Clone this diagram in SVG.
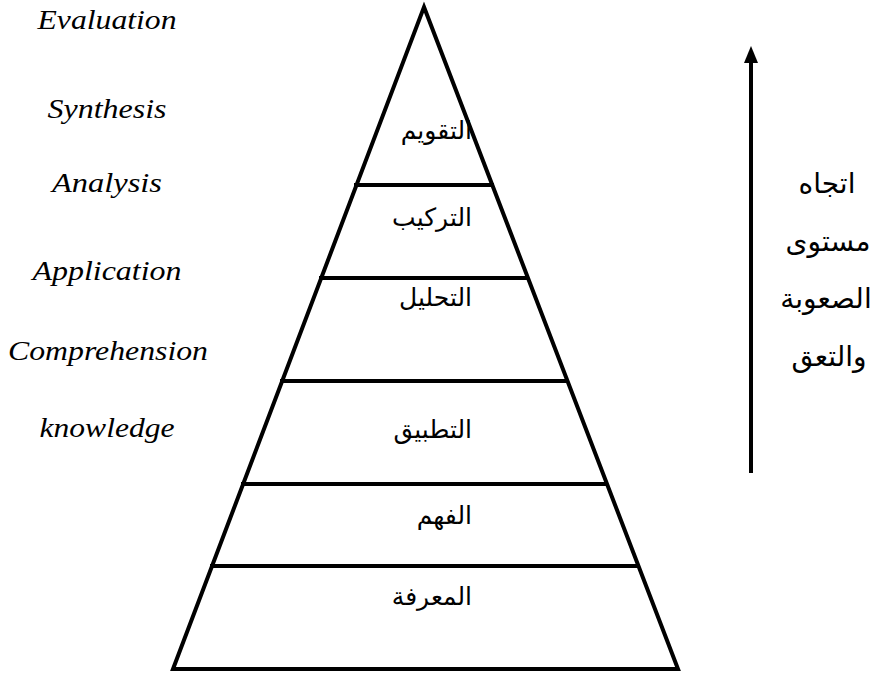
<svg xmlns="http://www.w3.org/2000/svg" width="883" height="674" viewBox="0 0 883 674">
<style>
.edge{stroke:#000;stroke-width:4;fill:none}
.en{font-family:"Liberation Serif","Times New Roman",serif;font-style:italic;font-size:28px;text-anchor:middle;fill:#000}
.ar{font-family:"DejaVu Sans","Liberation Sans",Arial,sans-serif;font-size:25px;text-anchor:end;fill:#000}
.arr{font-family:"DejaVu Sans","Liberation Sans",Arial,sans-serif;font-size:28px;text-anchor:middle;fill:#000}
</style>
<g id="pyramid">
<polygon class="edge" points="424,7 678,669 173,669" stroke-linejoin="miter"/>
<line class="edge" x1="354" y1="185" x2="494" y2="185"/>
<line class="edge" x1="319" y1="278" x2="529" y2="278"/>
<line class="edge" x1="280" y1="381" x2="568" y2="381"/>
<line class="edge" x1="241" y1="484" x2="607" y2="484"/>
<line class="edge" x1="210" y1="566" x2="638" y2="566"/>
</g>
<g id="level-labels">
<text class="ar" x="472" y="139">التقويم</text>
<text class="ar" x="472" y="226">التركيب</text>
<text class="ar" x="472" y="306">التحليل</text>
<text class="ar" x="472" y="438">التطبيق</text>
<text class="ar" x="472" y="524">الفهم</text>
<text class="ar" x="472" y="605">المعرفة</text>
</g>
<g id="english-labels">
<text class="en" x="107" y="29" textLength="139" lengthAdjust="spacingAndGlyphs">Evaluation</text>
<text class="en" x="107" y="118" textLength="119" lengthAdjust="spacingAndGlyphs">Synthesis</text>
<text class="en" x="107" y="192" textLength="110" lengthAdjust="spacingAndGlyphs">Analysis</text>
<text class="en" x="107" y="280" textLength="149" lengthAdjust="spacingAndGlyphs">Application</text>
<text class="en" x="108" y="360" textLength="200" lengthAdjust="spacingAndGlyphs">Comprehension</text>
<text class="en" x="107" y="437" textLength="135" lengthAdjust="spacingAndGlyphs">knowledge</text>
</g>
<g id="connectors">
<line x1="751" y1="473" x2="751" y2="62" stroke="#000" stroke-width="4"/>
<polygon points="751,46 744,63 758,63" fill="#000"/>
</g>
<g id="direction-label">
<text class="arr" x="827" y="193">اتجاه</text>
<text class="arr" x="828" y="251">مستوى</text>
<text class="arr" x="826" y="308">الصعوبة</text>
<text class="arr" x="829" y="366">والتعق</text>
</g>
</svg>
